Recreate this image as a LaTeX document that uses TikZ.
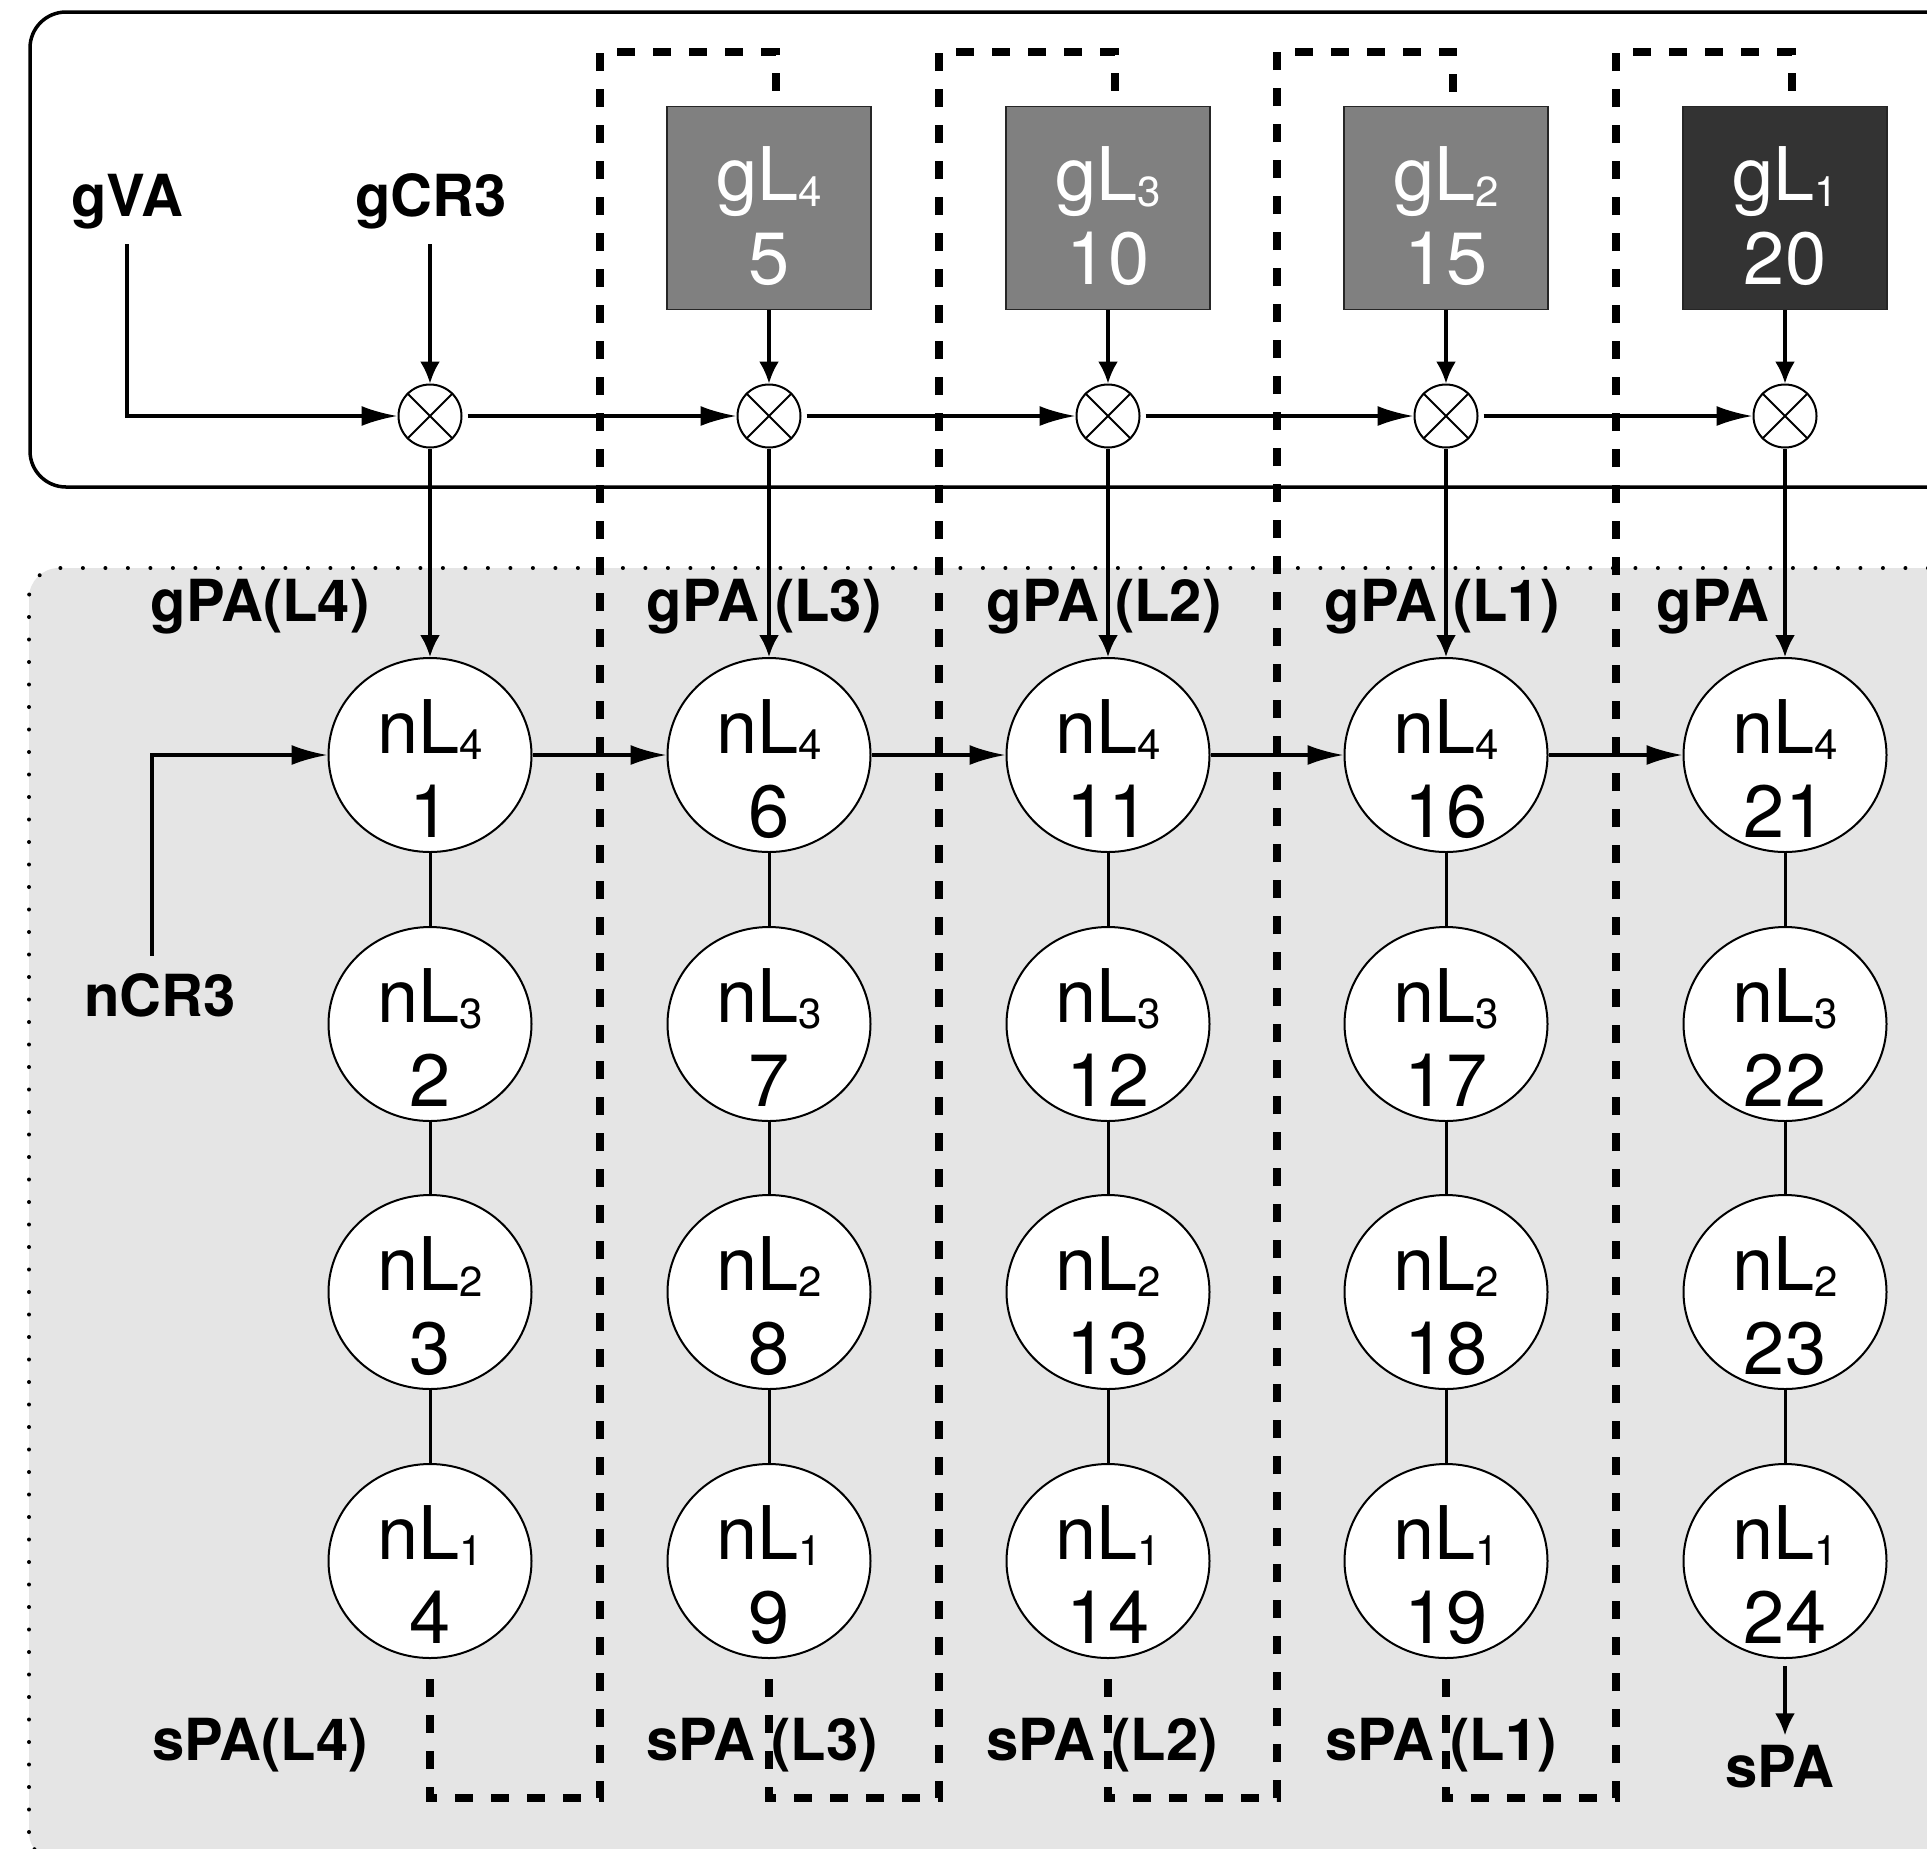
\documentclass[tikz,border=0pt]{standalone}
\usepackage{fontspec}
\setmainfont{TeX Gyre Heros}
\usetikzlibrary{arrows.meta,shapes.geometric}
\definecolor{bggray}{gray}{0.898}
\definecolor{glgray}{gray}{0.5}
\definecolor{gldark}{gray}{0.2}
\newcommand\subs[1]{\raisebox{-3pt}{\fontsize{21}{21}\selectfont #1}}
\begin{document}
\begin{tikzpicture}[x=0.5pt,y=-0.5pt,
  conn/.style={line width=1.6pt},
  harr/.style={conn,-{Latex[length=18pt,width=10pt]}},
  varr/.style={conn,-{Latex[length=11pt,width=10pt]}},
  thinlink/.style={line width=1.5pt},
  lbl/.style={font=\fontsize{29}{31}\selectfont\bfseries, inner sep=0pt, anchor=base},
  nodetxt/.style={font=\fontsize{37}{42}\selectfont, align=center, inner sep=0pt},
  nlnode/.style={ellipse, draw, line width=1pt, fill=white, minimum width=101.5pt, minimum height=97pt, inner sep=0pt},
  glbox/.style={draw=black!85, line width=0.8pt, minimum width=102pt, minimum height=101.5pt, inner sep=0pt},
  mult/.style={circle, draw, line width=1pt, fill=white, minimum size=31.5pt, inner sep=0pt},
  feedback/.style={line width=3.6pt, dash pattern=on 9pt off 9pt},
]
\useasboundingbox (0,0) rectangle (1927,1848);
\clip (0,0) rectangle (1927,1848);
\fill[white] (0,0) rectangle (1927,1848);

% top frame
\draw[line width=1.75pt, rounded corners=18pt] (30,487) -- (30,12) -- (2100,12) -- (2100,487) -- cycle;
% bottom grey frame
\filldraw[fill=bggray, draw=black, line width=2pt, dash pattern=on 0pt off 11.25pt, line cap=round, rounded corners=15pt]
  (29,1862) -- (29,568) -- (2100,568) -- (2100,1862) -- cycle;

% labels
\node[lbl] (gVA) at (127,216) {gVA};
\node[lbl] (gCR3) at (431,216) {gCR3};
\node[lbl] (gpa1) at (260,621) {gPA(L4)};
\node[lbl] (gpa2) at (764,621) {gPA (L3)};
\node[lbl] (gpa3) at (1104,621) {gPA (L2)};
\node[lbl] (gpa4) at (1442,621) {gPA (L1)};
\node[lbl] (gpa5) at (1713,621) {gPA};
\node[lbl] (nCR3) at (160,1016) {nCR3};
\node[lbl] (spa1) at (260,1760) {sPA(L4)};
\node[lbl] (spa2) at (762,1760) {sPA (L3)};
\node[lbl] (spa3) at (1102,1760) {sPA (L2)};
\node[lbl] (spa4) at (1441,1760) {sPA (L1)};
\node[lbl] (sPA) at (1780,1787) {sPA};

% columns
\foreach \i/\x in {1/430,2/769,3/1108,4/1446,5/1785} {
  \node[mult] (o\i) at (\x,416) {};
  \draw[line width=1pt] (o\i.north west) -- (o\i.south east) (o\i.north east) -- (o\i.south west);
  \foreach \r/\y in {1/755,2/1024,3/1292,4/1561} {
    \pgfmathtruncatemacro\num{5*(\i-1)+\r}
    \pgfmathtruncatemacro\lev{5-\r}
    \node[nlnode] (c\i\r) at (\x,\y) {};
    \node[nodetxt] (t\i\r) at (\x,\y+14) {nL\subs{\lev}\\\num};
  }
}
\foreach \i/\x/\col in {2/769/glgray,3/1108/glgray,4/1446/glgray,5/1785/gldark} {
  \pgfmathtruncatemacro\num{5*(\i-1)}
  \pgfmathtruncatemacro\lev{6-\i}
  \node[glbox, fill=\col] (g\i) at (\x,208) {};
  \node[nodetxt, text=white] (gt\i) at (\x,216) {gL\subs{\lev}\\\num};
}

% feedback dashed paths
\foreach \i/\j/\m in {1/2/600,2/3/939,3/4/1277,4/5/1616} {
  \coordinate (fa\i) at (\m,1798);
  \coordinate (fb\i) at (\m,52);
  \draw[feedback, shorten <=10pt, shorten >=6pt] (c\i4.south) |- (fa\i) -- (fb\i) -| ([xshift=3.5pt]g\j.north);
}

% connectors
\draw[harr, shorten <=7.5pt] (gVA.south) |- (o1.west);
\draw[varr, shorten <=7.5pt] (gCR3.south -| o1) -- (o1.north);
\foreach \i in {2,3,4,5} { \draw[varr] (g\i.south) -- (o\i.north); }
\foreach \i/\j in {1/2,2/3,3/4,4/5} {
  \draw[harr, shorten <=2.5pt] (o\i.east) -- (o\j.west);
  \draw[harr] (c\i1.east) -- (c\j1.west);
}
\foreach \i in {1,2,3,4,5} {
  \draw[varr] (o\i.south) -- (c\i1.north);
  \draw[thinlink] (c\i1.south) -- (c\i2.north);
  \draw[thinlink] (c\i2.south) -- (c\i3.north);
  \draw[thinlink] (c\i3.south) -- (c\i4.north);
}
\draw[harr] ([xshift=-4pt,yshift=8.5pt]nCR3.north) |- (c11.west);
\draw[varr, shorten <=3.5pt, shorten >=4.5pt] (c54.south) -- (c54.south |- sPA.north);
\end{tikzpicture}
\end{document}
